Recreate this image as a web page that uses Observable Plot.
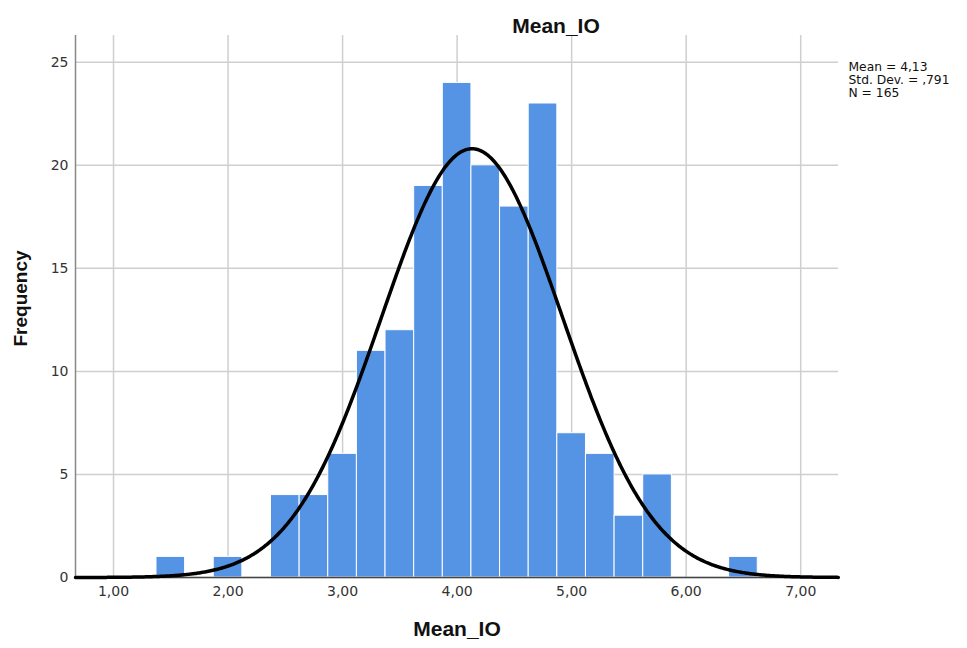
<!DOCTYPE html>
<html>
<head>
<meta charset="utf-8">
<script src="https://cdn.jsdelivr.net/npm/d3@7"></script>
<script src="https://cdn.jsdelivr.net/npm/@observablehq/plot@0.6"></script>
<style>
  html, body { margin: 0; padding: 0; background: #fff; }
  #chart svg { display: block; }
</style>
</head>
<body>
<div id="chart"></div>
<script>
// Histogram bins (centers) and frequencies
const binCenters = [1.5, 2.0, 2.5, 2.75, 3.0, 3.25, 3.5, 3.75, 4.0, 4.25, 4.5, 4.75, 5.0, 5.25, 5.5, 5.75, 6.5];
const counts     = [1,   1,   4,   4,    6,   11,   12,  19,   24,  20,   18,  23,   7,   6,    3,   5,    1];
const binWidth = 0.25;

// Summary statistics shown in the legend
const mean = 4.13;
const sd = 0.791;
const n = 165;
const statsLabels = ["Mean = 4,13", "Std. Dev. = ,791", "N = 165"];

const xTicks = [1, 2, 3, 4, 5, 6, 7];
const yTicks = [0, 5, 10, 15, 20, 25];
const title = "Mean_IO";
const xLabel = "Mean_IO";
const yLabel = "Frequency";

const bars = binCenters.map((c, i) => ({x1: c - binWidth / 2, x2: c + binWidth / 2, y: counts[i]}));

// Fitted normal curve (scaled to counts)
const xDomain = [0.668, 7.33];
const curve = d3.range(xDomain[0], xDomain[1] + 0.001, 0.01).map(x => ({
  x,
  y: n * binWidth * Math.exp(-0.5 * ((x - mean) / sd) ** 2) / (sd * Math.sqrt(2 * Math.PI))
}));

const fmt = d => d.toFixed(2).replace(".", ",");
const tickFont = "'DejaVu Sans', Verdana, sans-serif";

const chart = Plot.plot({
  width: 967,
  height: 648,
  marginLeft: 75,
  marginRight: 129,
  marginTop: 35,
  marginBottom: 71,
  style: {fontFamily: "'Liberation Sans', Arial, sans-serif", fontSize: "13px", color: "#222"},
  x: {domain: xDomain},
  y: {domain: [0, 26.3]},
  marks: [
    Plot.gridX(xTicks, {stroke: "#cfcfcf", strokeOpacity: 1, strokeWidth: 1.5}),
    Plot.gridY(yTicks, {stroke: "#cfcfcf", strokeOpacity: 1, strokeWidth: 1.5}),
    Plot.rectY(bars, {x1: "x1", x2: "x2", y: "y", fill: "#5593e4", stroke: "white", strokeWidth: 1}),
    Plot.ruleX([xDomain[0]], {stroke: "#888", strokeWidth: 1.5}),
    Plot.ruleY([0], {stroke: "#444", strokeWidth: 1.5}),
    Plot.line(curve, {x: "x", y: "y", stroke: "black", strokeWidth: 3.5}),
    Plot.axisX(xTicks, {tickSize: 0, tickPadding: 9, tickFormat: fmt, fill: "#333",
      label: xLabel, labelAnchor: "center", labelOffset: 58, labelArrow: "none"}),
    Plot.axisY(yTicks, {tickSize: 0, tickPadding: 7, fill: "#333",
      label: yLabel, labelAnchor: "center", labelOffset: 62, labelArrow: "none"}),
    Plot.text([title], {frameAnchor: "top", dx: 99, dy: -17, fontSize: 21, fontWeight: "bold", fill: "#111"}),
    ...statsLabels.map((s, i) => Plot.text([s], {frameAnchor: "top-right", dx: 10, dy: 27 + i * 13,
      textAnchor: "start", lineAnchor: "top", fontSize: 12.3, fill: "#111", fontFamily: tickFont}))
  ]
});

// tick label font
chart.querySelectorAll("g[aria-label='x-axis tick label'], g[aria-label='y-axis tick label']").forEach(g => {
  g.setAttribute("font-family", tickFont);
  g.setAttribute("font-size", "14");
});
// bold, larger axis labels
chart.querySelectorAll("g[aria-label='x-axis label'] text").forEach(t => {
  t.setAttribute("font-weight", "bold");
  t.setAttribute("font-size", "21");
  t.setAttribute("fill", "#111");
});
chart.querySelectorAll("g[aria-label='y-axis label'] text").forEach(t => {
  t.setAttribute("transform", "translate(0,-8) " + (t.getAttribute("transform") || ""));
  t.setAttribute("font-weight", "bold");
  t.setAttribute("font-size", "19");
  t.setAttribute("fill", "#111");
});
document.getElementById("chart").appendChild(chart);
</script>
</body>
</html>
